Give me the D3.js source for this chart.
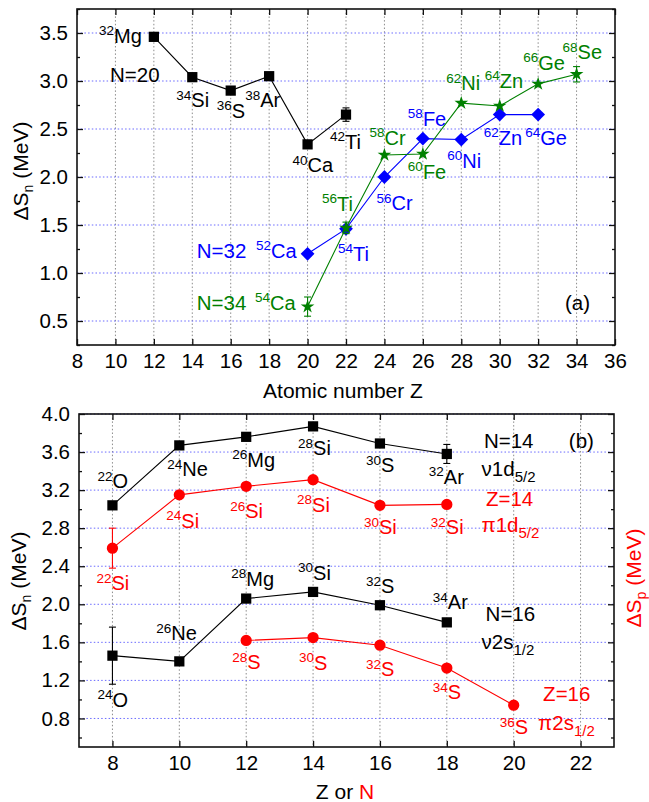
<!DOCTYPE html>
<html>
<head>
<meta charset="utf-8">
<script src="https://d3js.org/d3.v7.min.js"></script>
<style>
  body { margin: 0; background: #fff; }
  text { font-family: "Liberation Sans", Arial, sans-serif; }
</style>
</head>
<body>
<svg id="drawing_region"></svg>
<script>
// ---------- panel (a): delta S_n against Z ----------
const xTicksA = [8, 10, 12, 14, 16, 18, 20, 22, 24, 26, 28, 30, 32, 34, 36];
const yTicksA = [0.5, 1.0, 1.5, 2.0, 2.5, 3.0, 3.5];
const yMinorA = [0.25, 0.75, 1.25, 1.75, 2.25, 2.75, 3.25, 3.75];

const n20Z    = [12, 14, 16, 18, 20, 22];
const n20Val  = [3.46, 3.04, 2.90, 3.05, 2.34, 2.65];
const n20Err  = [0, 0, 0, 0, 0, 0.07];
const n20A    = [32, 34, 36, 38, 40, 42];
const n20Elem = ['Mg', 'Si', 'S', 'Ar', 'Ca', 'Ti'];

const n32Z    = [20, 22, 24, 26, 28, 30, 32];
const n32Val  = [1.20, 1.46, 2.00, 2.40, 2.39, 2.65, 2.65];
const n32Err  = [0, 0, 0, 0, 0, 0, 0];
const n32A    = [52, 54, 56, 58, 60, 62, 64];
const n32Elem = ['Ca', 'Ti', 'Cr', 'Fe', 'Ni', 'Zn', 'Ge'];

const n34Z    = [20, 22, 24, 26, 28, 30, 32, 34];
const n34Val  = [0.65, 1.47, 2.23, 2.24, 2.77, 2.74, 2.97, 3.07];
const n34Err  = [0.10, 0.06, 0, 0, 0, 0, 0, 0.08];
const n34A    = [54, 56, 58, 60, 62, 64, 66, 68];
const n34Elem = ['Ca', 'Ti', 'Cr', 'Fe', 'Ni', 'Zn', 'Ge', 'Se'];

// ---------- panel (b): delta S_n / delta S_p against Z or N ----------
const xTicksB = [8, 10, 12, 14, 16, 18, 20, 22];
const yTicksB = [0.8, 1.2, 1.6, 2.0, 2.4, 2.8, 3.2, 3.6, 4.0];
const yMinorB = [0.6, 1.0, 1.4, 1.8, 2.2, 2.6, 3.0, 3.4, 3.8];

const n14Z    = [8, 10, 12, 14, 16, 18];
const n14Val  = [3.04, 3.67, 3.76, 3.87, 3.69, 3.58];
const n14Err  = [0.04, 0, 0, 0, 0, 0.10];
const n14A    = [22, 24, 26, 28, 30, 32];
const n14Elem = ['O', 'Ne', 'Mg', 'Si', 'S', 'Ar'];

const z14N    = [8, 10, 12, 14, 16, 18];
const z14Val  = [2.59, 3.15, 3.24, 3.31, 3.04, 3.05];
const z14Err  = [0.21, 0, 0, 0, 0, 0];
const z14A    = [22, 24, 26, 28, 30, 32];
const z14Elem = ['Si', 'Si', 'Si', 'Si', 'Si', 'Si'];

const n16Z    = [8, 10, 12, 14, 16, 18];
const n16Val  = [1.46, 1.40, 2.06, 2.13, 1.99, 1.81];
const n16Err  = [0.30, 0.04, 0, 0, 0, 0];
const n16A    = [24, 26, 28, 30, 32, 34];
const n16Elem = ['O', 'Ne', 'Mg', 'Si', 'S', 'Ar'];

const z16N    = [12, 14, 16, 18, 20];
const z16Val  = [1.62, 1.65, 1.57, 1.33, 0.94];
const z16Err  = [0, 0, 0, 0, 0];
const z16A    = [28, 30, 32, 34, 36];
const z16Elem = ['S', 'S', 'S', 'S', 'S'];

// label placement, pixels from the marker: [dx, dy(baseline), anchor]
const n20Lab = [[-12, 6, 'end'], [-16, 30], [-14, 27], [-24, 31], [-15, 28], [-16, 34]];
const n32Lab = [[-11, 4, 'end'], [-8, 32], [-8, 33], [-15, -13], [-14, 28], [-16, 30], [-13, 30]];
const n34Lab = [[-12, 3, 'end'], [-24, -17], [-15, -10], [-15, 25], [-15, -13], [-15, -18], [-15, -14], [-14, -15]];
const n14Lab = [[-15, -17], [-12, 31], [-14, 30], [-15, 29], [-14, 29], [-18, 30]];
const z14Lab = [[-16, 42], [-13, 33], [-16, 32], [-16, 32], [-16, 29], [-16, 30]];
const n16Lab = [[-15, 51], [-23, -21], [-15, -13], [-15, -12], [-14, -12], [-14, -13]];
const z16Lab = [[-14, 29], [-14, 32], [-14, 31], [-14, 31], [-14, 29]];

const BLUE = '#0000ff', GREEN = '#008000', RED = '#ff0000', BLACK = '#000';

function makeSeries(xs, vals, errs, masses, elems, labs, color, shape) {
    return {
        color: color, shape: shape,
        points: xs.map((x, i) => ({
            x: x, y: vals[i], err: errs[i], mass: masses[i], elem: elems[i],
            dx: labs[i][0], dy: labs[i][1], anchor: labs[i][2] || 'start'
        }))
    };
}

const svg = d3.select('#drawing_region')
    .attr('width', 649)
    .attr('height', 802);


class DeltaPanel {

    constructor( config, series, notes ) {
        this.config = config;
        this.series = series;
        this.notes = notes;
        this.init();
    }

    init() {
        let self = this;
        const c = self.config;
        self.g = svg.append('g');
        self.xscale = d3.scaleLinear().domain(c.xDomain).range([c.left, c.right]);
        self.yscale = d3.scaleLinear().domain(c.yDomain).range([c.bottom, c.top]);
    }

    render() {
        let self = this;
        const c = self.config, x = self.xscale, y = self.yscale;

        // dotted grid
        self.g.selectAll('.vgrid')
            .data(c.xTicks.filter(t => t > c.xDomain[0] && t < c.xDomain[1]))
            .enter().append('line')
            .attr('x1', d => x(d)).attr('x2', d => x(d))
            .attr('y1', c.top).attr('y2', c.bottom)
            .attr('stroke', '#8c8c8c').attr('stroke-width', 1)
            .attr('stroke-dasharray', '1.5,2.2');

        self.g.selectAll('.hgrid')
            .data(c.yTicks)
            .enter().append('line')
            .attr('x1', c.left).attr('x2', c.right)
            .attr('y1', d => y(d)).attr('y2', d => y(d))
            .attr('stroke', '#6b6bff').attr('stroke-width', 1)
            .attr('stroke-dasharray', '1.5,2.2');

        // axes, ticks pointing inward
        const axes = [
            [d3.axisBottom(x).tickValues(c.xTicks).tickSize(-6).tickPadding(8).tickFormat(d3.format('d')), c.bottom, 'x'],
            [d3.axisTop(x).tickValues(c.xTicks).tickSize(-6).tickFormat(''), c.top, 'x'],
            [d3.axisLeft(y).tickValues(c.yTicks).tickSize(-6).tickPadding(9).tickFormat(d3.format('.1f')), c.left, 'y'],
            [d3.axisLeft(y).tickValues(c.yMinor).tickSize(-3).tickFormat(''), c.left, 'y'],
            [d3.axisRight(y).tickValues(c.yTicks).tickSize(-6).tickFormat(''), c.right, 'y'],
            [d3.axisRight(y).tickValues(c.yMinor).tickSize(-3).tickFormat(''), c.right, 'y']
        ];
        axes.forEach(a => {
            const ag = self.g.append('g')
                .attr('transform', a[2] === 'x' ? `translate(0,${a[1]})` : `translate(${a[1]},0)`)
                .call(a[0].tickSizeOuter(0));
            ag.select('.domain').remove();
            ag.selectAll('line').attr('stroke', '#111').attr('stroke-width', 1.3);
            ag.selectAll('text')
                .attr('fill', '#000')
                .style('font-size', '20.5px')
                .style('font-family', '"Liberation Sans", Arial, sans-serif');
        });

        self.g.append('rect')
            .attr('x', c.left).attr('y', c.top)
            .attr('width', c.right - c.left).attr('height', c.bottom - c.top)
            .attr('fill', 'none').attr('stroke', '#111').attr('stroke-width', 1.6);

        const line = d3.line().x(d => x(d.x)).y(d => y(d.y));

        self.series.forEach(s => {
            const sg = self.g.append('g');

            sg.append('path')
                .attr('d', line(s.points))
                .attr('fill', 'none')
                .attr('stroke', s.color)
                .attr('stroke-width', 1.1);

            const eb = sg.selectAll('.err')
                .data(s.points.filter(d => d.err > 0))
                .enter().append('g');
            eb.append('line')
                .attr('x1', d => x(d.x)).attr('x2', d => x(d.x))
                .attr('y1', d => y(d.y - d.err)).attr('y2', d => y(d.y + d.err))
                .attr('stroke', s.color).attr('stroke-width', 1.1);
            [-1, 1].forEach(k => {
                eb.append('line')
                    .attr('x1', d => x(d.x) - 3.5).attr('x2', d => x(d.x) + 3.5)
                    .attr('y1', d => y(d.y + k * d.err)).attr('y2', d => y(d.y + k * d.err))
                    .attr('stroke', s.color).attr('stroke-width', 1.1);
            });

            const sym = {
                square:  d3.symbol(d3.symbolSquare, 105),
                diamond: d3.symbol(d3.symbolSquare, 95),
                star:    d3.symbol(d3.symbolStar, 58),
                circle:  d3.symbol(d3.symbolCircle, 100)
            }[s.shape];

            sg.selectAll('.mark')
                .data(s.points)
                .enter().append('path')
                .attr('d', sym)
                .attr('transform', d => `translate(${x(d.x)},${y(d.y)})` + (s.shape === 'diamond' ? ' rotate(45)' : ''))
                .attr('fill', s.color);

            const lt = sg.selectAll('.lab')
                .data(s.points)
                .enter().append('text')
                .attr('x', d => x(d.x) + d.dx)
                .attr('y', d => y(d.y) + d.dy)
                .attr('text-anchor', d => d.anchor)
                .attr('fill', s.color);
            lt.append('tspan')
                .style('font-size', '13.5px')
                .attr('dy', -7.5)
                .text(d => d.mass);
            lt.append('tspan')
                .style('font-size', '20px')
                .attr('dy', 7.5)
                .text(d => d.elem);
        });

        // N= / Z= annotations and orbitals
        self.notes.forEach(n => {
            const t = self.g.append('text')
                .attr('x', x(n.x)).attr('y', y(n.y))
                .attr('fill', n.color)
                .style('font-size', '20.5px');
            t.append('tspan').text(n.text);
            if (n.sub) {
                t.append('tspan').attr('dy', 6).style('font-size', '15px').text(n.sub);
            }
        });
    }
}


function yTitle(cx, cy, sub, color) {
    const t = svg.append('text')
        .attr('transform', `translate(${cx},${cy}) rotate(-90)`)
        .attr('text-anchor', 'middle')
        .attr('fill', color)
        .style('font-size', '21px');
    t.append('tspan').text('ΔS');
    t.append('tspan').attr('dy', 5).style('font-size', '14px').text(sub);
    t.append('tspan').attr('dy', -5).text(' (MeV)');
}


const panelA = new DeltaPanel(
    { left: 77, right: 615, top: 9, bottom: 345,
      xDomain: [8, 36], yDomain: [0.25, 3.75],
      xTicks: xTicksA, yTicks: yTicksA, yMinor: yMinorA },
    [
        makeSeries(n20Z, n20Val, n20Err, n20A, n20Elem, n20Lab, BLACK, 'square'),
        makeSeries(n32Z, n32Val, n32Err, n32A, n32Elem, n32Lab, BLUE, 'diamond'),
        makeSeries(n34Z, n34Val, n34Err, n34A, n34Elem, n34Lab, GREEN, 'star')
    ],
    [
        { x: 9.72,  y: 2.99, text: 'N=20', color: BLACK },
        { x: 14.23, y: 1.156, text: 'N=32', color: BLUE },
        { x: 14.23, y: 0.618, text: 'N=34', color: GREEN },
        { x: 33.4,  y: 0.618, text: '(a)', color: BLACK }
    ]
);
panelA.render();

const panelB = new DeltaPanel(
    { left: 79, right: 614, top: 414, bottom: 747,
      xDomain: [7, 23], yDomain: [0.5, 4.0],
      xTicks: xTicksB, yTicks: yTicksB, yMinor: yMinorB },
    [
        makeSeries(n14Z, n14Val, n14Err, n14A, n14Elem, n14Lab, BLACK, 'square'),
        makeSeries(z14N, z14Val, z14Err, z14A, z14Elem, z14Lab, RED, 'circle'),
        makeSeries(n16Z, n16Val, n16Err, n16A, n16Elem, n16Lab, BLACK, 'square'),
        makeSeries(z16N, z16Val, z16Err, z16A, z16Elem, z16Lab, RED, 'circle')
    ],
    [
        { x: 19.11, y: 3.64, text: 'N=14', color: BLACK },
        { x: 19.04, y: 3.35, text: 'ν1d', sub: '5/2', color: BLACK },
        { x: 21.65, y: 3.64, text: '(b)', color: BLACK },
        { x: 19.17, y: 3.03, text: 'Z=14', color: RED },
        { x: 19.04, y: 2.76, text: 'π1d', sub: '5/2', color: RED },
        { x: 19.16, y: 1.82, text: 'N=16', color: BLACK },
        { x: 19.04, y: 1.53, text: 'ν2s', sub: '1/2', color: BLACK },
        { x: 20.88, y: 0.98, text: 'Z=16', color: RED },
        { x: 20.73, y: 0.68, text: 'π2s', sub: '1/2', color: RED }
    ]
);
panelB.render();

// axis titles
svg.append('text')
    .attr('x', 343).attr('y', 398)
    .attr('text-anchor', 'middle')
    .style('font-size', '21px')
    .text('Atomic number Z');

const zn = svg.append('text')
    .attr('x', 345).attr('y', 799)
    .attr('text-anchor', 'middle')
    .style('font-size', '21px');
zn.append('tspan').text('Z or ');
zn.append('tspan').attr('fill', RED).text('N');

yTitle(28, 171, 'n', BLACK);
yTitle(26, 581, 'n', BLACK);
yTitle(641, 578, 'p', RED);
</script>
</body>
</html>
